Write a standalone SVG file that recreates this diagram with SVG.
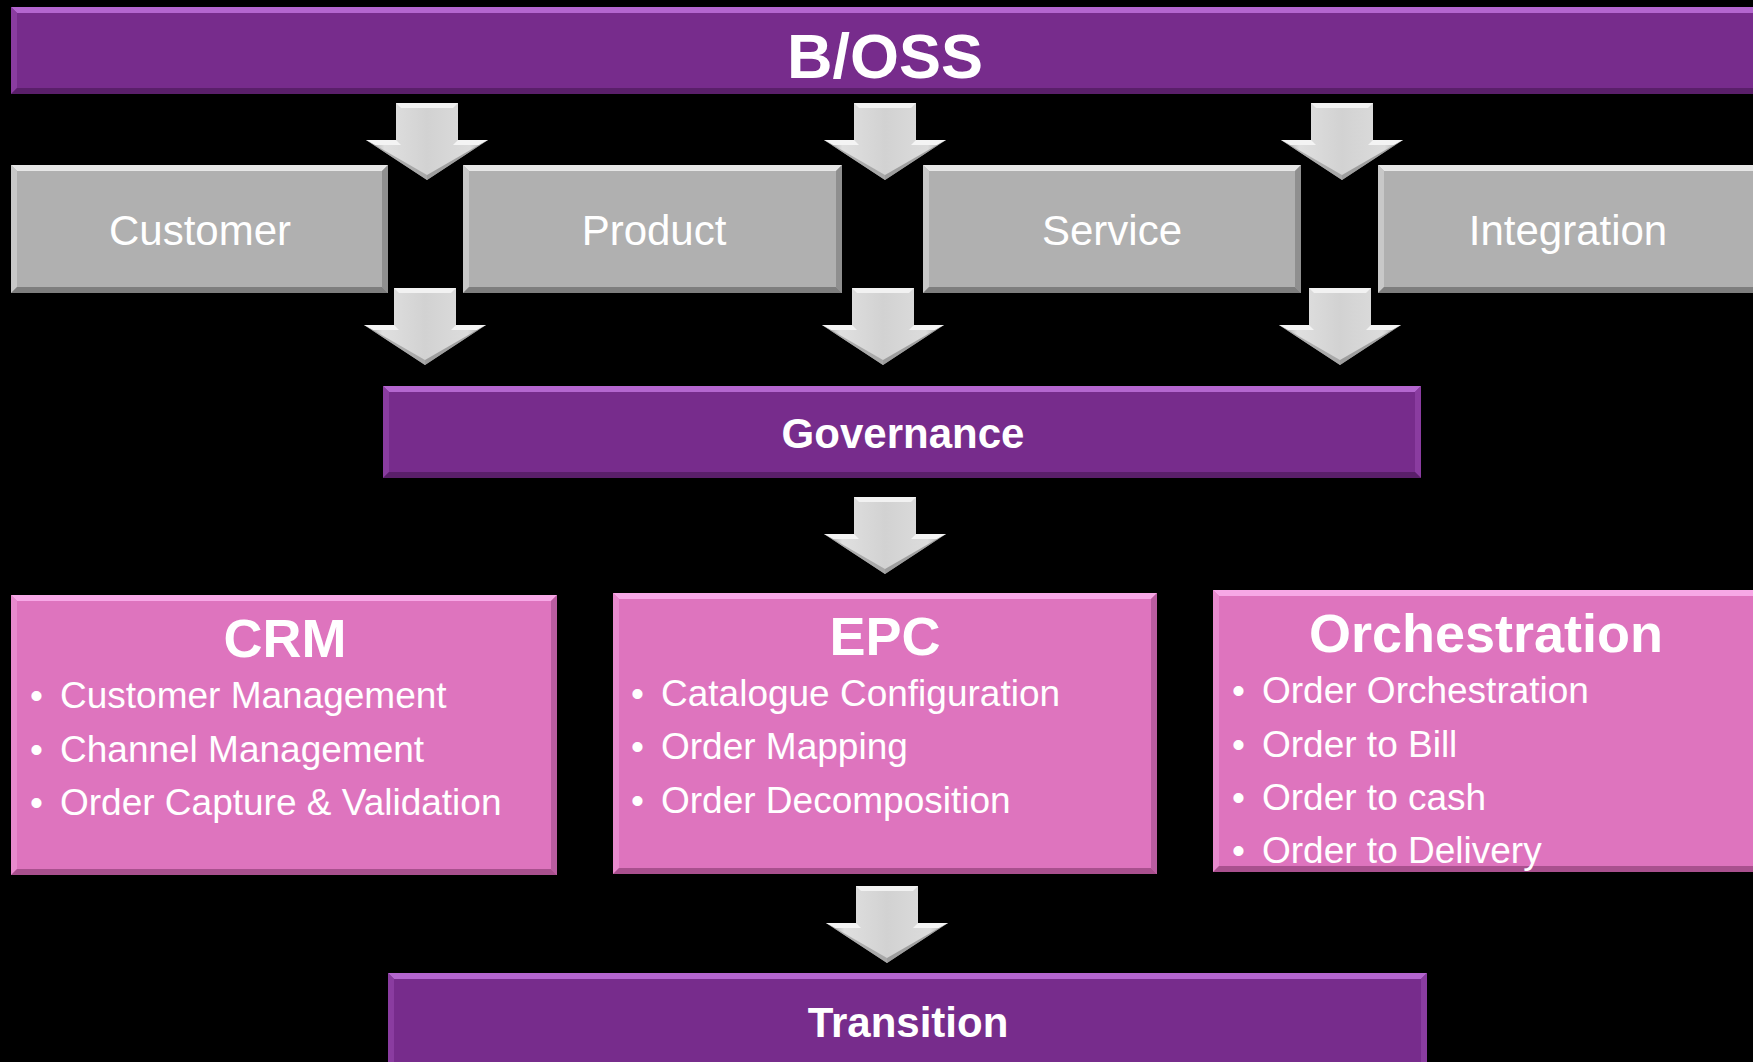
<svg xmlns="http://www.w3.org/2000/svg" width="1753" height="1062" viewBox="0 0 1753 1062">
<defs>
<style>
.purple{fill:#772C8C}
.ptop{fill:#B466CF}
.pbot{fill:#5A1F6A}
.pside{fill:#8A3CA0}
.gray{fill:#B0B0B0}
.gtop{fill:#E6E6E6}
.gbot{fill:#7E7E7E}
.gleft{fill:#C8C8C8}
.gright{fill:#8F8F8F}
.pink{fill:#DE74BE}
.ktop{fill:#F7A8E6}
.kbot{fill:#A9508E}
.kleft{fill:#E88ACD}
.kright{fill:#B95CA0}
.arrow{fill:url(#ag)}
.t{font-family:"Liberation Sans",Arial,sans-serif;fill:#FFFFFF}
.title{font-weight:bold;text-anchor:middle}
.gtxt{font-size:42px;text-anchor:middle}
.bul{font-size:37px}
</style>
<linearGradient id="ag" x1="0" y1="0" x2="1" y2="0">
<stop offset="0" stop-color="#9A9A9A"/>
<stop offset="0.15" stop-color="#E0E0E0"/>
<stop offset="0.5" stop-color="#D2D2D2"/>
<stop offset="0.85" stop-color="#DCDCDC"/>
<stop offset="1" stop-color="#A0A0A0"/>
</linearGradient>
<symbol id="arr" viewBox="-62 0 124 77" width="124" height="77" overflow="visible">
<polygon points="-31,0 31,0 31,37 61,37 0,77 -61,37 -31,37" fill="url(#ag)"/>
<polygon points="-31,0 31,0 26,5 -26,5" fill="#F2F2F2"/>
<polygon points="-61,37 -31,37 -26,42 -52,42" fill="#F4F4F4"/>
<polygon points="31,37 61,37 52,42 26,42" fill="#F4F4F4"/>
<polygon points="-52,42 0,72 0,77 -61,37" fill="#8C8C8C" opacity="0.6"/>
<polygon points="52,42 0,72 0,77 61,37" fill="#7A7A7A" opacity="0.6"/>
</symbol>
</defs>
<rect width="1753" height="1062" fill="#000000"/>

<g id="connectors">
<use href="#arr" x="365" y="103"/>
<use href="#arr" x="823" y="103"/>
<use href="#arr" x="1280" y="103"/>
<use href="#arr" x="363" y="288"/>
<use href="#arr" x="821" y="288"/>
<use href="#arr" x="1278" y="288"/>
<use href="#arr" x="823" y="497"/>
<use href="#arr" x="825" y="886"/>
</g>

<g id="boss">
<rect class="purple" x="11" y="7" width="1742" height="87"/>
<polygon class="ptop" points="11,7 1753,7 1753,13 17,13"/>
<polygon class="pside" points="11,7 17,13 17,88 11,94"/>
<polygon class="pbot" points="11,94 17,88 1753,88 1753,94"/>
<text class="t title" x="885" y="78" font-size="63">B/OSS</text>
</g>

<g id="customer">
<rect class="gray" x="11" y="165" width="377" height="128"/>
<polygon class="gtop" points="11,165 388,165 382,171 17,171"/>
<polygon class="gleft" points="11,165 17,171 17,287 11,293"/>
<polygon class="gright" points="388,165 388,293 382,287 382,171"/>
<polygon class="gbot" points="11,293 17,287 382,287 388,293"/>
<text class="t gtxt" x="200" y="245">Customer</text>
</g>

<g id="product">
<rect class="gray" x="463" y="165" width="379" height="128"/>
<polygon class="gtop" points="463,165 842,165 836,171 469,171"/>
<polygon class="gleft" points="463,165 469,171 469,287 463,293"/>
<polygon class="gright" points="842,165 842,293 836,287 836,171"/>
<polygon class="gbot" points="463,293 469,287 836,287 842,293"/>
<text class="t gtxt" x="654" y="245">Product</text>
</g>

<g id="service">
<rect class="gray" x="923" y="165" width="378" height="128"/>
<polygon class="gtop" points="923,165 1301,165 1295,171 929,171"/>
<polygon class="gleft" points="923,165 929,171 929,287 923,293"/>
<polygon class="gright" points="1301,165 1301,293 1295,287 1295,171"/>
<polygon class="gbot" points="923,293 929,287 1295,287 1301,293"/>
<text class="t gtxt" x="1112" y="245">Service</text>
</g>

<g id="integration">
<rect class="gray" x="1378" y="165" width="375" height="128"/>
<polygon class="gtop" points="1378,165 1753,165 1753,171 1384,171"/>
<polygon class="gleft" points="1378,165 1384,171 1384,287 1378,293"/>
<polygon class="gbot" points="1378,293 1384,287 1753,287 1753,293"/>
<text class="t gtxt" x="1568" y="245">Integration</text>
</g>

<g id="governance">
<rect class="purple" x="383" y="386" width="1038" height="92"/>
<polygon class="ptop" points="383,386 1421,386 1415,392 389,392"/>
<polygon class="pside" points="383,386 389,392 389,472 383,478"/>
<polygon class="pside" points="1421,386 1421,478 1415,472 1415,392"/>
<polygon class="pbot" points="383,478 389,472 1415,472 1421,478"/>
<text class="t title" x="903" y="448" font-size="42">Governance</text>
</g>

<g id="crm">
<rect class="pink" x="11" y="595" width="546" height="280"/>
<polygon class="ktop" points="11,595 557,595 551,601 17,601"/>
<polygon class="kleft" points="11,595 17,601 17,869 11,875"/>
<polygon class="kright" points="557,595 557,875 551,869 551,601"/>
<polygon class="kbot" points="11,875 17,869 551,869 557,875"/>
<text class="t title" x="285" y="657" font-size="54">CRM</text>
<text class="t bul" x="30" y="708">•</text><text class="t bul" x="60" y="708">Customer Management</text>
<text class="t bul" x="30" y="762">•</text><text class="t bul" x="60" y="762">Channel Management</text>
<text class="t bul" x="30" y="815">•</text><text class="t bul" x="60" y="815">Order Capture &amp; Validation</text>
</g>

<g id="epc">
<rect class="pink" x="613" y="593" width="544" height="281"/>
<polygon class="ktop" points="613,593 1157,593 1151,599 619,599"/>
<polygon class="kleft" points="613,593 619,599 619,868 613,874"/>
<polygon class="kright" points="1157,593 1157,874 1151,868 1151,599"/>
<polygon class="kbot" points="613,874 619,868 1151,868 1157,874"/>
<text class="t title" x="885" y="655" font-size="54">EPC</text>
<text class="t bul" x="631" y="706">•</text><text class="t bul" x="661" y="706">Catalogue Configuration</text>
<text class="t bul" x="631" y="759">•</text><text class="t bul" x="661" y="759">Order Mapping</text>
<text class="t bul" x="631" y="813">•</text><text class="t bul" x="661" y="813">Order Decomposition</text>
</g>

<g id="orchestration">
<rect class="pink" x="1213" y="590" width="540" height="282"/>
<polygon class="ktop" points="1213,590 1753,590 1753,596 1219,596"/>
<polygon class="kleft" points="1213,590 1219,596 1219,866 1213,872"/>
<polygon class="kbot" points="1213,872 1219,866 1753,866 1753,872"/>
<text class="t title" x="1486" y="652" font-size="54">Orchestration</text>
<text class="t bul" x="1232" y="703">•</text><text class="t bul" x="1262" y="703">Order Orchestration</text>
<text class="t bul" x="1232" y="757">•</text><text class="t bul" x="1262" y="757">Order to Bill</text>
<text class="t bul" x="1232" y="810">•</text><text class="t bul" x="1262" y="810">Order to cash</text>
<text class="t bul" x="1232" y="863">•</text><text class="t bul" x="1262" y="863">Order to Delivery</text>
</g>

<g id="transition">
<rect class="purple" x="388" y="973" width="1039" height="89"/>
<polygon class="ptop" points="388,973 1427,973 1421,979 394,979"/>
<polygon class="pside" points="388,973 394,979 394,1062 388,1062"/>
<polygon class="pside" points="1427,973 1427,1062 1421,1062 1421,979"/>
<text class="t title" x="908" y="1037" font-size="42">Transition</text>
</g>
</svg>
